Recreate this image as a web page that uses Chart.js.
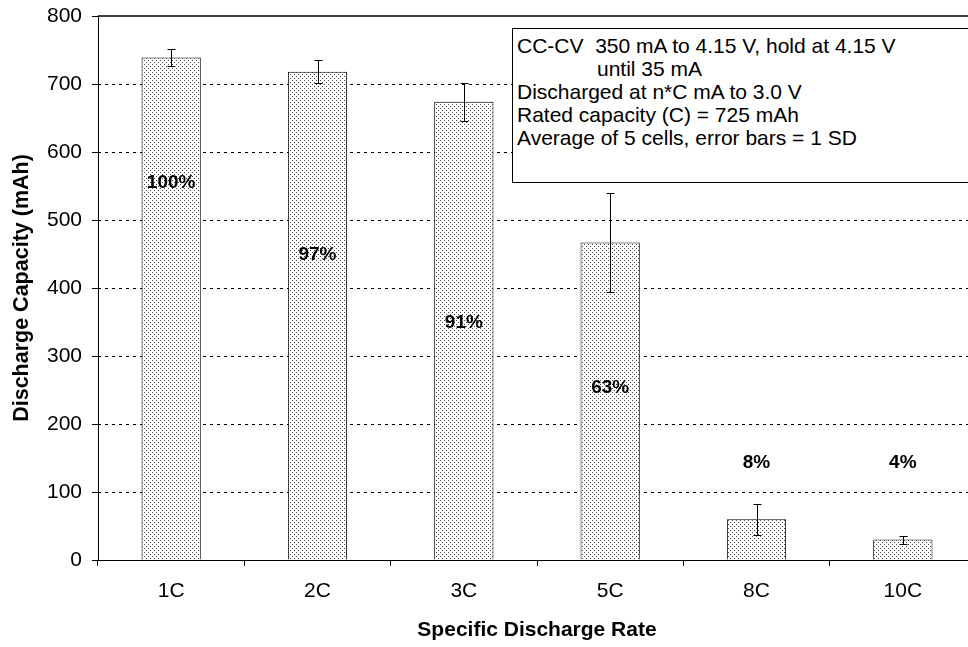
<!DOCTYPE html>
<html>
<head>
<meta charset="utf-8">
<script src="https://cdn.jsdelivr.net/npm/chart.js@4.4.1/dist/chart.umd.min.js"></script>
<style>
html,body{margin:0;padding:0;background:#fff;overflow:hidden}
#wrap{position:relative;width:980px;height:647px}
#note{position:absolute;left:512px;top:28px;width:470px;height:155px;box-sizing:border-box;border:1px solid #000;background:#fff;
  font-family:"Liberation Sans",Arial,sans-serif;font-size:21px;line-height:23px;padding:5px 0 0 4px;color:#000;white-space:nowrap}
</style>
</head>
<body>
<div id="wrap">
  <canvas id="c"></canvas>
  <div id="note">CC-CV&nbsp; 350 mA to 4.15 V, hold at 4.15 V<br><span style="padding-left:80px">until 35 mA</span><br>Discharged at n*C mA to 3.0 V<br>Rated capacity (C) = 725 mAh<br>Average of 5 cells, error bars = 1 SD</div>
</div>
<script>
const FONT = '"Liberation Sans", Arial, sans-serif'

const rates     = ['1C','2C','3C','5C','8C','10C']
const capacity  = [739, 718, 674, 467, 60, 30]
const sd        = [12, 17, 28, 73, 23, 6]
const pctLabels = ['100%','97%','91%','63%','8%','4%']
const pctAt     = [555, 449, 349, 253, 143, 143]   // where each % label sits, in mAh

// stippled grey bar fill
const canvas = document.getElementById('c')
const tile = document.createElement('canvas')
tile.width = 4; tile.height = 4
const tg = tile.getContext('2d')
tg.fillStyle = '#fff'; tg.fillRect(0,0,4,4)
tg.fillStyle = '#444'; tg.fillRect(0,0,1,1); tg.fillRect(2,2,1,1)
const stipple = canvas.getContext('2d').createPattern(tile,'repeat')

const extras = {
  id:'extras',
  beforeDatasetsDraw(chart){
    const {ctx, chartArea:a, scales:{y}} = chart
    ctx.save()
    ctx.strokeStyle = '#000'; ctx.lineWidth = 1; ctx.setLineDash([3,4])
    y.ticks.forEach(t=>{
      if (t.value<=y.min || t.value>=y.max) return
      const py = Math.round(y.getPixelForValue(t.value))+0.5
      ctx.beginPath(); ctx.moveTo(a.left,py); ctx.lineTo(a.right,py); ctx.stroke()
    })
    ctx.setLineDash([]); ctx.lineWidth = 1.5
    ctx.beginPath(); ctx.moveTo(a.left,a.top); ctx.lineTo(a.right,a.top); ctx.stroke()
    ctx.restore()
  },
  afterDatasetsDraw(chart){
    const {ctx, scales:{y}} = chart
    const meta = chart.getDatasetMeta(0)
    ctx.save()
    ctx.strokeStyle = '#000'; ctx.lineWidth = 1
    meta.data.forEach((bar,i)=>{
      const x = Math.round(bar.x)+0.5
      const t = Math.round(y.getPixelForValue(capacity[i]+sd[i]))+0.5
      const b = Math.round(y.getPixelForValue(capacity[i]-sd[i]))+0.5
      ctx.beginPath()
      ctx.moveTo(x,t); ctx.lineTo(x,b)
      ctx.moveTo(x-4,t); ctx.lineTo(x+4,t)
      ctx.moveTo(x-4,b); ctx.lineTo(x+4,b)
      ctx.stroke()
    })
    ctx.fillStyle = '#000'
    ctx.font = 'bold 19px '+FONT
    ctx.textAlign = 'center'; ctx.textBaseline = 'middle'
    meta.data.forEach((bar,i)=> ctx.fillText(pctLabels[i], bar.x, y.getPixelForValue(pctAt[i])))
    ctx.restore()
  }
}

new Chart(canvas,{
  type:'bar',
  data:{
    labels:rates,
    datasets:[{ label:'Discharge Capacity', data:capacity, backgroundColor:stipple, borderColor:'#000', borderWidth:1,
      barPercentage:0.405, categoryPercentage:1 }]
  },
  options:{
    responsive:true, maintainAspectRatio:false, animation:false,
    layout:{ padding:{top:16,right:4,left:0,bottom:0} },
    plugins:{ legend:{display:false}, tooltip:{enabled:false} },
    scales:{
      x:{
        grid:{ drawOnChartArea:false, drawTicks:true, tickLength:6, color:'#000', offset:true },
        border:{ color:'#000', width:1 },
        ticks:{ color:'#000', font:{family:FONT,size:21}, padding:13 },
        title:{ display:true, text:'Specific Discharge Rate', color:'#000', font:{family:FONT,size:21,weight:'bold'}, padding:{top:0,bottom:4} },
        afterFit(s){ s.height = 87; s.paddingLeft = 0; s.paddingRight = 0 }
      },
      y:{
        min:0, max:800,
        grid:{ drawOnChartArea:false, drawTicks:true, tickLength:6, color:'#000' },
        border:{ color:'#000', width:1 },
        ticks:{ stepSize:100, color:'#000', font:{family:FONT,size:21}, padding:10 },
        title:{ display:true, text:'Discharge Capacity (mAh)', color:'#000', font:{family:FONT,size:21.5,weight:'bold'}, padding:{top:9,bottom:0} },
        afterFit(s){ s.width = 98; s.paddingTop = 0; s.paddingBottom = 0 }
      }
    }
  },
  plugins:[extras]
})
</script>
</body>
</html>
